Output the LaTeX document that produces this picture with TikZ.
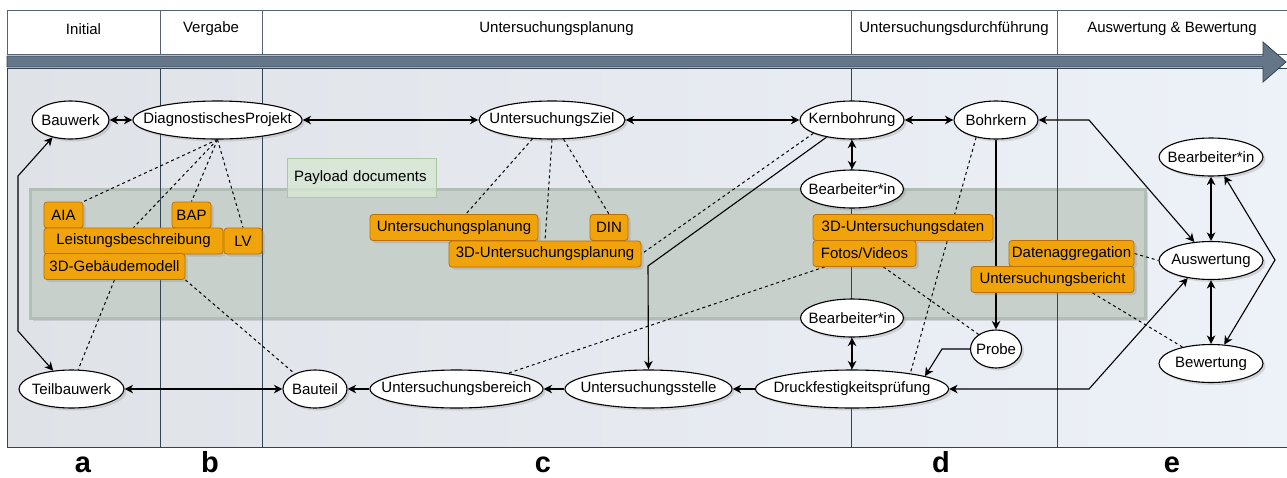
\documentclass[tikz,border=0pt]{standalone}
\usepackage{fontspec}
\setmainfont{Liberation Sans}
\usetikzlibrary{arrows.meta,shapes.geometric,shadows}
\tikzset{>={Stealth[length=8.5pt,width=8.5pt,inset=2.5pt]}}

\definecolor{hdrline}{HTML}{56626F}
\definecolor{colline}{HTML}{314354}
\definecolor{slate}{HTML}{647687}
\definecolor{bodyleft}{HTML}{DFE3E8}
\definecolor{bodyright}{HTML}{EDF1F8}
\definecolor{bandfill}{HTML}{C7D0CB}
\definecolor{bandline}{HTML}{B2BEB5}
\definecolor{payfill}{HTML}{D6E7D3}
\definecolor{payline}{HTML}{A9CAA0}
\definecolor{docfill}{HTML}{F0A30A}
\definecolor{docline}{HTML}{BD7000}

\pgfdeclarelayer{back}
\pgfdeclarelayer{lines}
\pgfsetlayers{back,lines,main}

\newcommand\lbl[1]{\makebox[0pt]{#1}}

\tikzset{
  txt/.style={font=\fontsize{15}{18}\selectfont},
  shd/.style={drop shadow={shadow xshift=2.5pt,shadow yshift=-2.5pt,opacity=0.25}},
  obj/.style={txt, ellipse, draw, fill=white, line width=1.1pt, inner sep=0pt,
    minimum height=38pt, shd},
  doc/.style={txt, rectangle, rounded corners=3pt, draw=docline, fill=docfill,
    line width=0.8pt, inner sep=0pt, minimum height=26pt, shd},
  link/.style={line width=1.1pt},
  ref/.style={line width=1pt, dash pattern=on 3pt off 3pt},
  phase/.style={txt},
  letter/.style={font=\fontsize{29}{33}\selectfont\bfseries, anchor=base, inner sep=0pt},
}

\begin{document}
\begin{tikzpicture}[x=1pt, y=-1pt]

  \useasboundingbox (0,0) rectangle (1287,477);

  %% lanes
  \begin{pgfonlayer}{back}
    \shade[left color=bodyleft, right color=bodyright] (7,68) rectangle (1287,447);
    \draw[bandline, fill=bandfill, line width=3pt, shd] (30.5,189.5) rectangle (1145.5,318.5);
    \foreach \x in {160, 262, 851, 1057}
      \draw[colline, line width=0.9pt] (\x,68) -- (\x,447);
    \draw[colline, line width=0.9pt] (7,68) rectangle (1287,447);

    % header
    \draw[hdrline, fill=white, line width=0.9pt] (7,10) rectangle (1287,54);
    \foreach \x in {160, 262, 851, 1057}
      \draw[hdrline, line width=0.9pt] (\x,10) -- (\x,54);

    % time arrow
    \draw[colline, fill=slate, line width=0.8pt] (7,56) -- (1263,56) -- (1263,42)
      -- (1286,62) -- (1263,82) -- (1263,67) -- (7,67) -- cycle;
  \end{pgfonlayer}

  \node[phase] (initial) at (83.5,29) {Initial};
  \node[phase] (vergabe) at (211,29) {Vergabe};
  \node[phase] (planung) at (556.5,29) {Untersuchungsplanung};
  \node[phase] (durchf) at (954,29) {Untersuchungsdurchführung};
  \node[phase] (ausbew) at (1172,29) {Auswertung \& Bewertung};

  \node[txt, draw=payline, fill=payfill, fill opacity=0.8, text opacity=1, line width=0.8pt,
    minimum width=149pt, minimum height=39pt, text width=135pt, inner xsep=7pt,
    align=left] (payload) at (361.5,177.5) {Payload documents};

  %% objects
  \node[obj, minimum width=77pt] (bauwerk) at (70.5,120) {\lbl{Bauwerk}};
  \node[obj, minimum width=169pt] (dp) at (217.5,120) {\lbl{DiagnostischesProjekt}};
  \node[obj, minimum width=146pt] (uz) at (552,120) {\lbl{UntersuchungsZiel}};
  \node[obj, minimum width=104pt] (kern) at (852,120) {\lbl{Kernbohrung}};
  \node[obj, minimum width=84pt] (bohr) at (996,120) {\lbl{Bohrkern}};
  \node[obj, minimum width=103pt] (bearb1) at (852,189) {\lbl{Bearbeiter*in}};
  \node[obj, minimum width=103pt] (bearb2) at (852,318) {\lbl{Bearbeiter*in}};
  \node[obj, minimum width=193pt] (druck) at (852,389) {\lbl{Druckfestigkeitsprüfung}};
  \node[obj, minimum width=51pt] (probe) at (996,349) {\lbl{Probe}};
  \node[obj, minimum width=167pt] (stelle) at (648.5,389) {\lbl{Untersuchungsstelle}};
  \node[obj, minimum width=173pt] (bereich) at (456.5,389) {\lbl{Untersuchungsbereich}};
  \node[obj, minimum width=64pt] (bauteil) at (315,389) {\lbl{Bauteil}};
  \node[obj, minimum width=105pt] (teil) at (71.5,389) {\lbl{Teilbauwerk}};
  \node[obj, minimum width=104pt] (bearb3) at (1211,157) {\lbl{Bearbeiter*in}};
  \node[obj, minimum width=104pt] (ausw) at (1211,260.5) {\lbl{Auswertung}};
  \node[obj, minimum width=104pt] (bew) at (1211,363.5) {\lbl{Bewertung}};

  %% documents
  \node[doc, minimum width=39pt] (aia) at (63.5,215) {AIA};
  \node[doc, minimum width=39pt] (bap) at (191.5,215) {BAP};
  \node[doc, minimum width=179pt] (lb) at (133.5,241) {Leistungsbeschreibung};
  \node[doc, minimum width=38pt] (lv) at (243,241) {LV};
  \node[doc, minimum width=141pt] (gm) at (114.5,266.5) {3D-Gebäudemodell};
  \node[doc, minimum width=168pt] (upl) at (454,227.5) {Untersuchungsplanung};
  \node[doc, minimum width=38pt] (din) at (609,227.5) {DIN};
  \node[doc, minimum width=192pt] (upl3d) at (545,254) {3D-Untersuchungsplanung};
  \node[doc, minimum width=180pt] (udat) at (903,227.5) {3D-Untersuchungsdaten};
  \node[doc, minimum width=103pt] (fotos) at (864.5,253.5) {Fotos/Videos};
  \node[doc, minimum width=125pt] (dagg) at (1071.5,253.5) {Datenaggregation};
  \node[doc, minimum width=163pt] (uber) at (1052.5,279.5) {Untersuchungsbericht};

  %% connectors
  \begin{pgfonlayer}{lines}
    \draw[link,<->] (bauwerk) -- (dp);
    \draw[link,<->] (dp) -- (uz);
    \draw[link,<->] (uz) -- (kern);
    \draw[link,<->] (kern) -- (bohr);
    \draw[link,<->] (bohr.east) -- (1089,120) -- (ausw.132);
    \draw[link,<->] (kern) -- (bearb1);
    \draw[link,->] (kern.-146) -- (648,266) -- (stelle.north);
    \draw[link,->] (bohr) -- (probe);
    \draw[link,->] (probe.west) -- (942,349) -- (druck.10);
    \draw[link,<->] (bearb2) -- (druck);
    \draw[link,<->] (ausw.-143) -- (1089,389) -- (druck.east);
    \draw[link,->] (druck) -- (stelle);
    \draw[link,->] (stelle) -- (bereich);
    \draw[link,->] (bereich) -- (bauteil);
    \draw[link,<->] (teil) -- (bauteil);
    \draw[link,<->] (bauwerk.-136) -- (18,176) -- (18,331) -- (teil.135);
    \draw[link,<->] (bearb3) -- (ausw);
    \draw[link,<->] (ausw) -- (bew);
    \draw[link,<->] (bearb3.-55) -- (1275,260) -- (bew.55);

    \foreach \bx/\an in {aia/north east, bap/north, lb/north, lv/north}
      \draw[ref] (dp.south) -- (\bx.\an);
    \draw[ref] (gm.south) -- (teil.71);
    \draw[ref] (gm.south east) -- (bauteil.143);
    \draw[ref] (uz.-136) -- (upl);
    \draw[ref] (uz.south) -- (upl3d.north);
    \draw[ref] (uz.-59) -- (din.north);
    \draw[ref] (kern.-161) -- (upl3d.east);
    \draw[ref] (bohr.-139) -- (druck.15);
    \draw[ref] (fotos) -- (bereich.17);
    \draw[ref] (fotos) -- (probe.140);
    \draw[ref] (dagg.east) -- (ausw.west);
    \draw[ref] ([xshift=40pt]uber.south) -- (bew.150);
  \end{pgfonlayer}

  %% phase letters
  \node[letter] (la) at (83,472) {a};
  \node[letter] (lb2) at (210,472) {b};
  \node[letter] (lc) at (543,472) {c};
  \node[letter] (ld) at (941,472) {d};
  \node[letter] (le) at (1172,472) {e};

\end{tikzpicture}
\end{document}
